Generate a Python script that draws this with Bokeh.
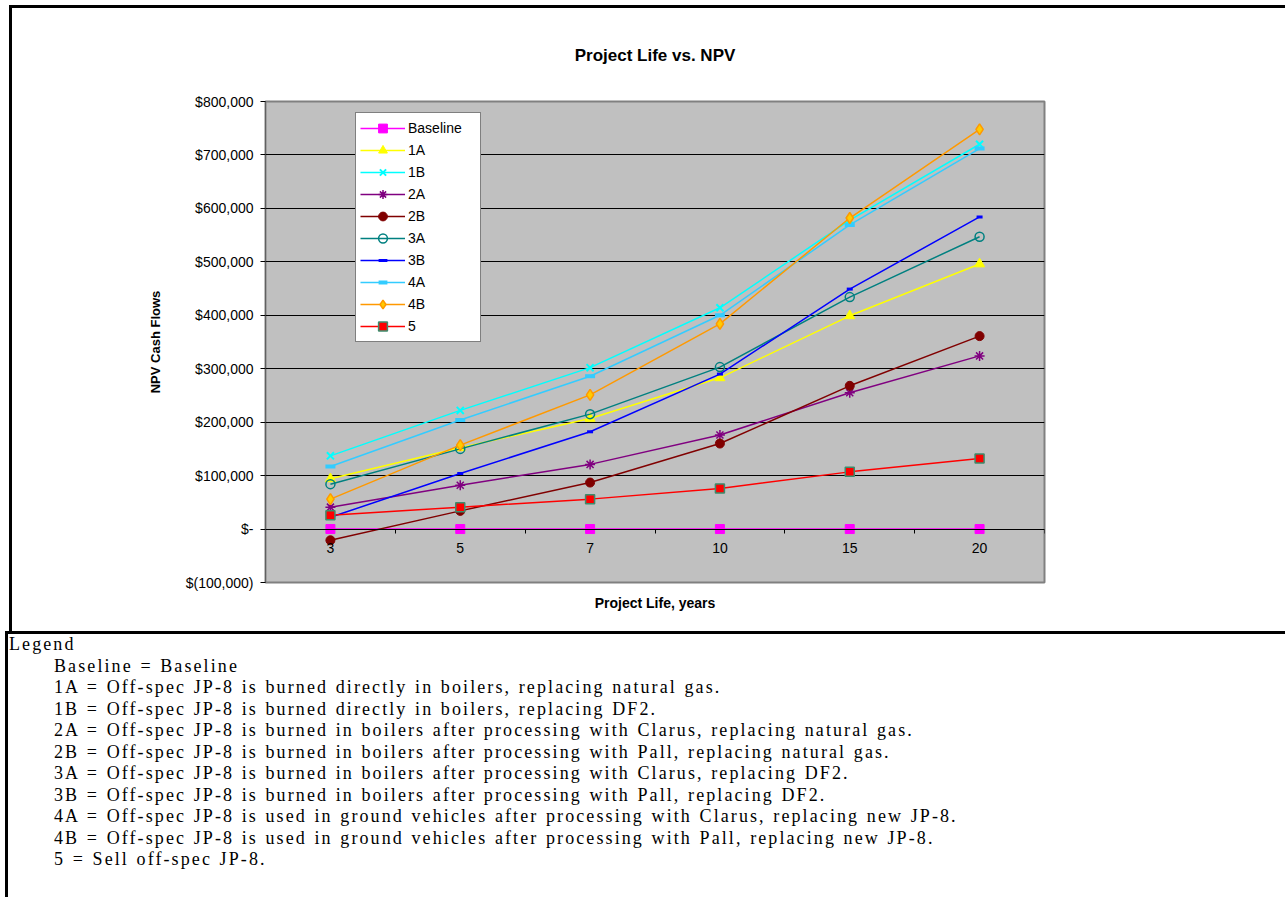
from bokeh.plotting import figure
from bokeh.models import Range1d, FixedTicker, Legend, LegendItem, Div, Title
from bokeh.layouts import column, row
from bokeh.embed import file_html
from bokeh.resources import INLINE

# ---------------- data ----------------
years = ["3", "5", "7", "10", "15", "20"]
series_names = ["Baseline", "1A", "1B", "2A", "2B", "3A", "3B", "4A", "4B", "5"]
npv_baseline = [0, 0, 0, 0, 0, 0]
npv_1a = [94000, 152000, 207000, 283000, 399000, 496000]
npv_1b = [137000, 222000, 302000, 414000, 578000, 720000]
npv_2a = [41000, 82000, 121000, 176000, 255000, 324000]
npv_2b = [-21000, 34000, 87000, 160000, 268000, 361000]
npv_3a = [84000, 150000, 215000, 303000, 434000, 547000]
npv_3b = [22000, 104000, 182000, 290000, 449000, 584000]
npv_4a = [117000, 204000, 286000, 400000, 569000, 712000]
npv_4b = [56000, 157000, 251000, 384000, 582000, 748000]
npv_5 = [26000, 41000, 56000, 76000, 107000, 132000]
y_tick_values = [-100000, 0, 100000, 200000, 300000, 400000, 500000, 600000, 700000, 800000]
y_tick_labels = ["$(100,000)", "$-", "$100,000", "$200,000", "$300,000", "$400,000",
                 "$500,000", "$600,000", "$700,000", "$800,000"]
chart_title = "Project Life vs. NPV"
x_title = "Project Life, years"
y_title = "NPV Cash Flows"
legend_heading = "Legend"
legend_lines = [
    "Baseline = Baseline",
    "1A = Off-spec JP-8 is burned directly in boilers, replacing natural gas.",
    "1B = Off-spec JP-8 is burned directly in boilers, replacing DF2.",
    "2A = Off-spec JP-8 is burned in boilers after processing with Clarus, replacing natural gas.",
    "2B = Off-spec JP-8 is burned in boilers after processing with Pall, replacing natural gas.",
    "3A = Off-spec JP-8 is burned in boilers after processing with Clarus, replacing DF2.",
    "3B = Off-spec JP-8 is burned in boilers after processing with Pall, replacing DF2.",
    "4A = Off-spec JP-8 is used in ground vehicles after processing with Clarus, replacing new JP-8.",
    "4B = Off-spec JP-8 is used in ground vehicles after processing with Pall, replacing new JP-8.",
    "5 = Sell off-spec JP-8.",
]
series_values = [npv_baseline, npv_1a, npv_1b, npv_2a, npv_2b, npv_3a, npv_3b, npv_4a, npv_4b, npv_5]

# ---------------- styles ----------------
styles = {
    "Baseline": dict(color="#FF00FF", marker="square", size=9, fill="#FF00FF", line="#FF00FF", mlw=1),
    "1A": dict(color="#FFFF00", marker="triangle", size=10, fill="#FFFF00", line="#FFFF00", mlw=1),
    "1B": dict(color="#00FFFF", marker="x", size=10, fill=None, line="#00FFFF", mlw=2),
    "2A": dict(color="#800080", marker="asterisk", size=10, fill=None, line="#800080", mlw=1.5),
    "2B": dict(color="#800000", marker="circle", size=9, fill="#800000", line="#800000", mlw=1),
    "3A": dict(color="#008080", marker="circle", size=9, fill=None, line="#008080", mlw=1.5),
    "3B": dict(color="#0000FF", marker="dash", size=6, fill=None, line="#0000FF", mlw=3),
    "4A": dict(color="#33CCFF", marker="dash", size=10, fill=None, line="#33CCFF", mlw=4),
    "4B": dict(color="#FF9900", marker="diamond", size=11, fill="#FFCC00", line="#FF9900", mlw=1.5),
    "5": dict(color="#FF0000", marker="square", size=9, fill="#FF0000", line="#3C8C6C", mlw=1.5),
}

FONT = "Liberation Sans"

x_pos = [i + 0.5 for i in range(len(years))]
boundaries = [float(i) for i in range(1, len(years) + 1)]

# figure sits at page x=12, y=8
p = figure(width=1273, height=623,
           x_range=Range1d(0, len(years)),
           y_range=Range1d(y_tick_values[0], y_tick_values[-1]),
           output_backend="svg", toolbar_location=None,
           min_border_left=253, min_border_right=241, min_border_top=93, min_border_bottom=49,
           background_fill_color="#C0C0C0", border_fill_color="white",
           outline_line_color="#808080", outline_line_width=2, margin=0)

p.title.text = chart_title
p.title.align = "center"
p.title.vertical_align = "top"
p.title.text_font = FONT
p.title.text_font_size = "17px"
p.title.text_font_style = "bold"
p.title.text_color = "black"
p.title.standoff = 70

bottom_title = Title(text=x_title, align="center", text_font=FONT, text_font_size="14px",
                     text_font_style="bold", text_color="black", standoff=20)
p.add_layout(bottom_title, "below")

p.xgrid.visible = False
p.ygrid.ticker = FixedTicker(ticks=y_tick_values)
p.ygrid.grid_line_color = "black"
p.ygrid.grid_line_width = 1

yax = p.yaxis[0]
yax.ticker = FixedTicker(ticks=y_tick_values)
yax.major_label_overrides = dict(zip(y_tick_values, y_tick_labels))
yax.major_label_text_font = FONT
yax.major_label_text_font_size = "14px"
yax.major_label_text_color = "black"
yax.major_tick_out = 5
yax.major_tick_in = 0
yax.major_tick_line_color = "black"
yax.minor_tick_line_color = None
yax.axis_line_color = "#606060"
yax.major_label_standoff = 7
yax.axis_label = y_title
yax.axis_label_text_font = FONT
yax.axis_label_text_font_size = "13px"
yax.axis_label_text_font_style = "bold"
yax.axis_label_text_color = "black"
yax.axis_label_standoff = 20

xax = p.xaxis[0]
xax.ticker = FixedTicker(ticks=x_pos, minor_ticks=boundaries)
xax.fixed_location = 0
xax.major_label_overrides = dict(zip(x_pos, years))
xax.major_label_text_font = FONT
xax.major_label_text_font_size = "14px"
xax.major_label_text_color = "black"
xax.major_tick_out = 0
xax.major_tick_in = 0
xax.minor_tick_out = 4
xax.minor_tick_in = 0
xax.minor_tick_line_color = "black"
xax.axis_line_color = "black"
xax.major_label_standoff = 10

items = []
for name, vals in zip(series_names, series_values):
    st = styles[name]
    r_line = p.line(x_pos, vals, line_color=st["color"], line_width=1.5)
    r_mark = p.scatter(x_pos, vals, marker=st["marker"], size=st["size"],
                       fill_color=st["fill"], line_color=st["line"], line_width=st["mlw"])
    items.append(LegendItem(label=name, renderers=[r_line, r_mark]))

legend = Legend(items=items, location=(90, 240),
                label_text_font=FONT, label_text_font_size="14px", label_text_color="black",
                glyph_width=45, glyph_height=22, label_height=22, label_width=68,
                spacing=0, padding=4, label_standoff=3, margin=0,
                border_line_color="black", border_line_width=1,
                background_fill_color="white", background_fill_alpha=1.0)
p.add_layout(legend)

# box edges around the chart
top_bar = Div(text="", width=1276, height=3, margin=(5, 0, 0, 9),
              styles={"background-color": "black"})
left_bar = Div(text="", width=3, height=623, margin=(0, 0, 0, 9),
               styles={"background-color": "black"})

rows = ['<div style="padding-left:0px">%s</div>' % legend_heading]
for line in legend_lines:
    rows.append('<div style="padding-left:45px">%s</div>' % line)
html = ('<div style="font-family:\'Liberation Serif\';font-size:18px;letter-spacing:2.1px;word-spacing:1px;'
        'line-height:21.5px;border-left:3px solid #000;border-top:3px solid #000;height:266px;width:1280px;'
        'box-sizing:border-box;margin:0;padding:0 0 0 1px;color:#000;white-space:nowrap;">'
        + "".join(rows) + '</div>')
text_div = Div(text=html, width=1280, height=266, margin=(0, 0, 0, 5))

layout = column(top_bar, row(left_bar, p, spacing=0), text_div, spacing=0)
open("out.html", "w").write(file_html(layout, INLINE, title="Project Life vs. NPV"))
